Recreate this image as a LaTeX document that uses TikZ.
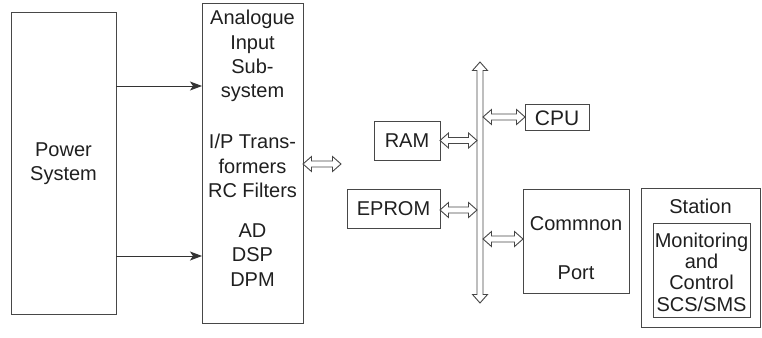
\documentclass[tikz,border=0pt]{standalone}
\usepackage{fontspec}
\setmainfont{Liberation Sans}
\usetikzlibrary{calc,arrows.meta}
\newcommand\dblh[2]{\draw[dblarrow] let \p1=#1, \p2=#2 in
  (\x1,\y1) -- (\x1+8.5pt,\y1+7.5pt) -- (\x1+8.5pt,\y1+3pt) -- (\x2-8.5pt,\y1+3pt) -- (\x2-8.5pt,\y1+7.5pt)
  -- (\x2,\y1) -- (\x2-8.5pt,\y1-7.5pt) -- (\x2-8.5pt,\y1-3pt) -- (\x1+8.5pt,\y1-3pt) -- (\x1+8.5pt,\y1-7.5pt) -- cycle;}
\newcommand\dblv[2]{\draw[dblarrow] let \p1=#1, \p2=#2 in
  (\x1,\y1) -- (\x1+7.5pt,\y1-8.5pt) -- (\x1+3pt,\y1-8.5pt) -- (\x1+3pt,\y2+8.5pt) -- (\x1+7.5pt,\y2+8.5pt)
  -- (\x1,\y2) -- (\x1-7.5pt,\y2+8.5pt) -- (\x1-3pt,\y2+8.5pt) -- (\x1-3pt,\y1-8.5pt) -- (\x1-7.5pt,\y1-8.5pt) -- cycle;}
\begin{document}
\begin{tikzpicture}[x=1pt,y=-1pt,
  box/.style={draw=black!72,line width=1pt,inner sep=0pt,outer sep=0pt},
  txt/.style={text=black!88,font=\fontsize{20}{24.3}\selectfont,align=center,inner sep=0pt},
  dblarrow/.style={draw=black!72,line width=0.9pt,line join=miter,fill=white},
  sarrow/.style={draw=black!80,line width=1pt,-{Stealth[length=12pt,width=9pt,inset=3pt]}}]
\useasboundingbox (0,0) rectangle (762,337);
% boxes
\node[box,minimum width=105,minimum height=301] (power) at (63.5,163.5) {};
\node[txt] (powertxt) at (63.5,164) {Power\\System};
\node[box,minimum width=101,minimum height=319] (ana) at (252.5,163.5) {};
\node[txt] (ana1) at (252.5,56) {Analogue\\Input\\Sub-\\system};
\node[txt] (ana2) at (252.5,166) {I/P Trans-\\formers\\RC Filters};
\node[txt] (ana3) at (252.5,255) {AD\\DSP\\DPM};
\node[box,minimum width=64,minimum height=26] (cpu) at (557,117) {};
\node[txt,font=\fontsize{21}{24}\selectfont] (cputxt) at (557,118) {CPU};
\node[box,minimum width=66,minimum height=39] (ram) at (407,140.5) {};
\node[txt] (ramtxt) at (407,141) {RAM};
\node[box,minimum width=93,minimum height=39] (eprom) at (393.5,208.5) {};
\node[txt] (epromtxt) at (393.5,209) {EPROM};
\node[box,minimum width=106,minimum height=104] (port) at (576,241) {};
\node[txt] (porttxt1) at (576,224) {Commnon};
\node[txt] (porttxt2) at (576,273) {Port};
\node[box,minimum width=119,minimum height=139] (station) at (700.5,257.5) {};
\node[txt] (stationtxt) at (700.5,206) {Station};
\node[box,minimum width=97,minimum height=94] (mon) at (701.5,270) {};
\node[txt,font=\fontsize{20}{21.3}\selectfont] (montxt) at (701.5,272) {Monitoring\\and\\Control\\SCS/SMS};
% coordinates
\coordinate (y1) at (0,86);
\coordinate (y2) at (0,256);
\coordinate (anaArr) at (0,164);
\coordinate (anaEnd) at (341,164);
\coordinate (busT) at (480,62);
\coordinate (busB) at (480,303);
\coordinate (cpuY) at (0,117);
\coordinate (portY) at (0,239);
% power arrows
\draw[sarrow] (power.east |- y1) -- (ana.west |- y1);
\draw[sarrow] (power.east |- y2) -- (ana.west |- y2);
% bus
\dblv{(busT)}{(busB)}
% double arrows
\dblh{(ana.east |- anaArr)}{(anaEnd)}
\dblh{(ram.east)}{($(ram.east -| busT)+(-3,0)$)}
\dblh{($(eprom.east)+(0,1.5)$)}{($(eprom.east -| busT)+(-3,1.5)$)}
\dblh{($(busT |- cpuY)+(3,0)$)}{(cpu.west |- cpuY)}
\dblh{($(busT |- portY)+(3,0)$)}{(port.west |- portY)}
\end{tikzpicture}
\end{document}
